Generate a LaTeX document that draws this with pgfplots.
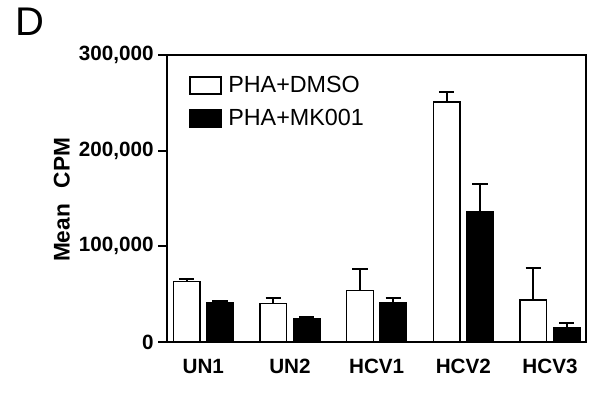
\documentclass[border=0pt]{standalone}
\usepackage{pgfplots}
\pgfplotsset{compat=1.18}
\usepackage{fontspec}
\setmainfont{Liberation Sans}
\begin{document}
\begin{tikzpicture}[x=0.75pt,y=0.75pt]
\path[use as bounding box] (-167,-62) rectangle (434,342);
\begin{axis}[
  at={(0,0)}, anchor=south west,
  scale only axis, width=314.25pt, height=215.25pt,
  xmin=-0.419, xmax=4.415,
  ymin=0, ymax=300000,
  scaled y ticks=false,
  axis line style={line width=1.6pt},
  ytick={0,100000,200000,300000},
  yticklabels={\textbf{0},\textbf{100,000},\textbf{200,000},\textbf{300,000}},
  ytick style={line width=1.6pt, black},
  tick align=outside, major tick length=6.5pt,
  ytick pos=left,
  xtick={0,1,2,3,4},
  xticklabels={\textbf{UN1},\textbf{UN2},\textbf{HCV1},\textbf{HCV2},\textbf{HCV3}},
  xtick style={draw=none},
  ticklabel style={font=\fontsize{15.5}{18}\selectfont},
  xticklabel style={yshift=-3pt},
  ylabel={\textbf{Mean\hspace{0.7em}CPM}},
  ylabel style={font=\fontsize{17}{20}\selectfont, xshift=-1pt},
  ybar, bar width=0.307,
  legend style={at={(axis description cs:0.043,0.945)}, anchor=north west, draw=none, fill=none,
    nodes={font=\fontsize{17.5}{20}\selectfont}, row sep=7pt, column sep=3pt, legend cell align=left},
  legend image code/.code={\draw[#1, line width=1pt] (0pt,-6.4pt) rectangle (23.25pt,6.4pt);},
  clip=false,
]
\addplot[bar shift=-0.192, draw=black, fill=white, line width=1pt,
  error bars/.cd, y dir=plus, y explicit,
  error bar style={line width=1.6pt, black},
  error mark options={rotate=90, mark size=5.8pt, line width=1.6pt, black}]
  table[x=x, y=y, y error=e] {
  x y e
  0 63500 2000
  1 40500 5500
  2 53600 22700
  3 251000 10000
  4 43900 33700
};
\addlegendentry{PHA+DMSO}
\addplot[bar shift=0.192, draw=black, fill=black, line width=1pt,
  error bars/.cd, y dir=plus, y explicit,
  error bar style={line width=1.6pt, black},
  error mark options={rotate=90, mark size=5.8pt, line width=1.6pt, black}]
  table[x=x, y=y, y error=e] {
  x y e
  0 41500 1500
  1 24400 1600
  2 41500 4100
  3 135800 29500
  4 15000 4500
};
\addlegendentry{PHA+MK001}
\end{axis}
\node[font=\fontsize{30}{36}\selectfont, inner sep=0pt] at (-137,320) {D};
\end{tikzpicture}
\end{document}
